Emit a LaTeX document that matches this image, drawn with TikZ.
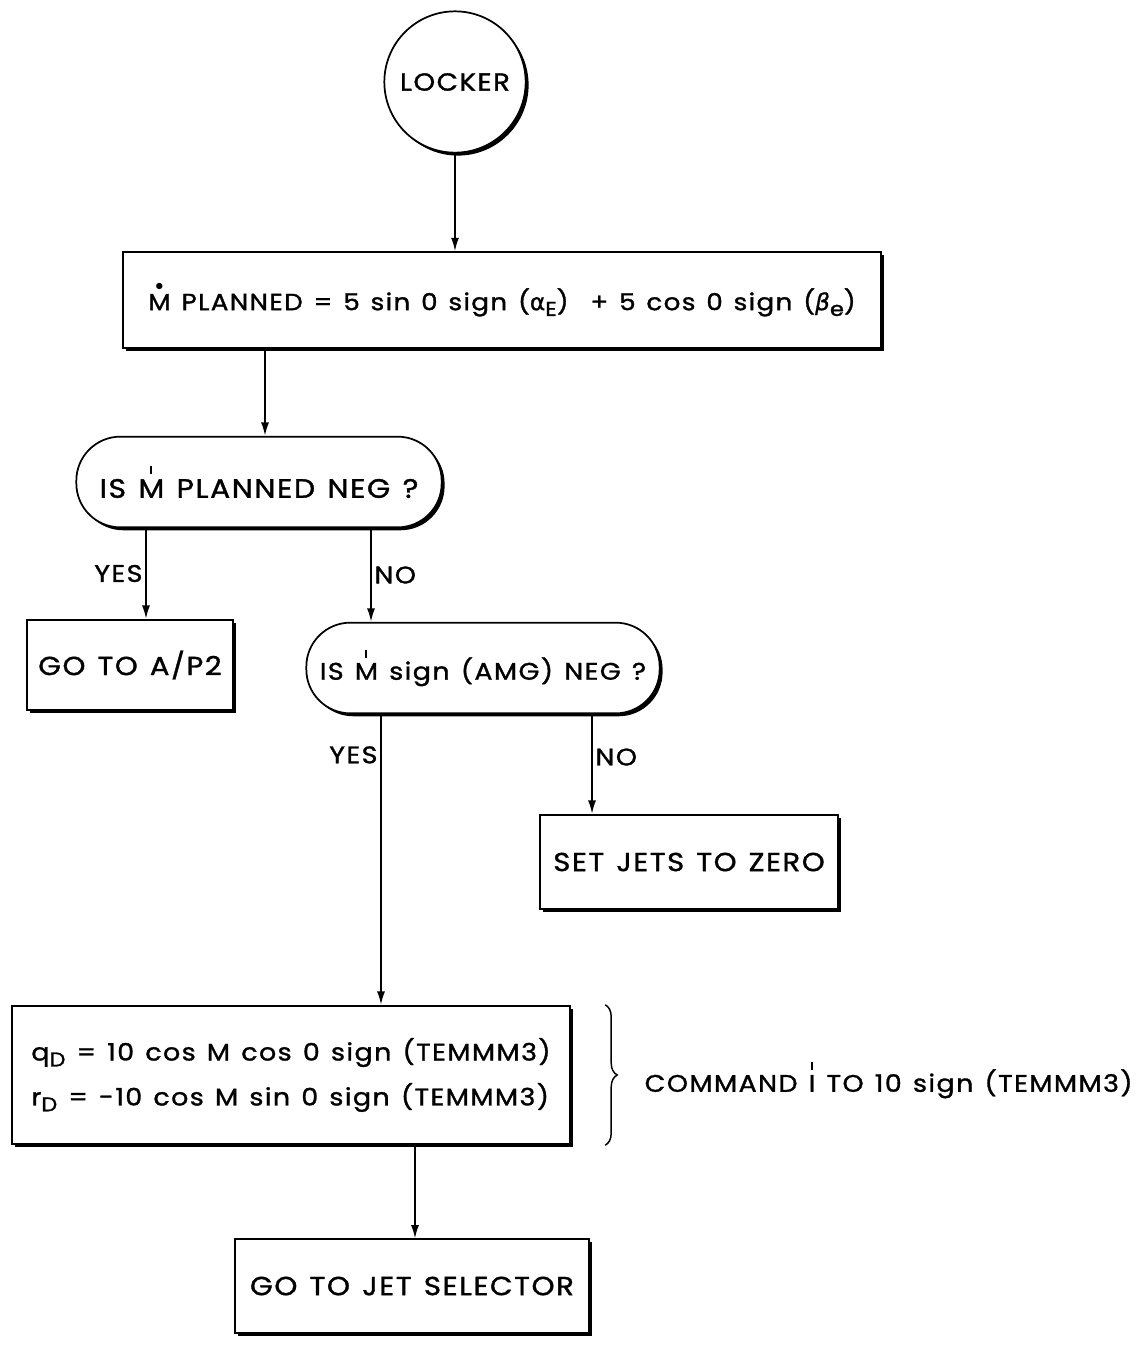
\documentclass[tikz,border=0pt]{standalone}
\usepackage{fontspec}
\setmainfont{Poppins}[LetterSpace=6,WordSpace=1.3,FakeBold=1.3,FakeStretch=1.12]
\newfontfamily\grk{DejaVu Sans}[FakeBold=1]
\usetikzlibrary{arrows.meta,shadows,decorations.pathreplacing,shapes.misc}
\newcommand\tickabove[1]{\leavevmode\setbox0\hbox{#1}\rlap{\hbox to\wd0{\hss\raisebox{\dimexpr\ht0+4pt\relax}{\rule{1.5pt}{6pt}}\hss}}\box0\relax}
\newcommand\dotabove[1]{\leavevmode\setbox0\hbox{#1}\rlap{\hbox to\wd0{\hss\raisebox{\dimexpr\ht0+2.5pt\relax}{\scalebox{0.7}{$\bullet$}}\hss}}\box0\relax}
\newcommand\lowsub[1]{\raisebox{-0.45ex}{\fontsize{15}{15}\selectfont #1}}
\newcommand\fs[1]{\fontsize{#1}{#1}\selectfont}
\begin{document}
\begin{tikzpicture}[x=0.75pt,y=-0.75pt,
  every node/.style={font=\fs{18}},
  shad/.style={drop shadow={shadow xshift=2.2pt,shadow yshift=-2.2pt,fill=black,opacity=1}},
  proc/.style={draw,line width=1.3pt,fill=white,shad,inner sep=0pt,align=center},
  dec/.style={draw,line width=1.3pt,fill=white,shad,rounded corners=33pt,inner sep=0pt,align=center},
  arr/.style={line width=1.3pt,-{Latex[length=10pt,width=6pt]}},
  lbl/.style={inner sep=2pt}
]
\useasboundingbox (0,0) rectangle (1144,1345);

\node[circle,draw,line width=1.3pt,fill=white,shad,minimum size=106pt,inner sep=0pt,font=\fs{18.5}] (lock) at (455,82) {LOCKER};

\node[proc,minimum width=568pt,minimum height=72pt,font=\fs{17.5}] (b1) at (502,300)
  {\dotabove{M} PLANNED = 5 sin 0 sign ({\grk α}\lowsub{E})\ \ + 5 cos 0 sign ({\grk\itshape β}\lowsub{e})};

\node[dec,minimum width=274pt,minimum height=68pt,font=\fs{20}] (d1) at (259,482)
  {IS \tickabove{M} PLANNED NEG ?};

\node[proc,minimum width=154pt,minimum height=68pt,font=\fs{19.5}] (ap2) at (130,665) {GO TO A/P2};

\node[dec,minimum width=265pt,minimum height=68pt,font=\fs{18}] (d2) at (483,668)
  {IS \tickabove{M} sign (AMG) NEG ?};

\node[proc,minimum width=223pt,minimum height=71pt,font=\fs{19.5}] (zero) at (689,862) {SET JETS TO ZERO};

\node[proc,minimum width=418pt,minimum height=104pt,align=left,font=\fs{18}] (b4) at (291,1075)
  {q\lowsub{D} = 10 cos M cos 0 sign (TEMMM3)\\[11pt]
   r\lowsub{D} = -10 cos M sin 0 sign (TEMMM3)};

\node[proc,minimum width=265pt,minimum height=70pt,font=\fs{19.6}] (jet) at (412,1286) {GO TO JET SELECTOR};

\node[anchor=west,font=\fs{18}] (cmd) at (640,1080) {COMMAND \tickabove{I} TO 10 sign (TEMMM3)};

% connectors
\draw[arr] (lock.south) -- (lock.south |- b1.north);
\draw[arr] ([xshift=4.5pt]d1.north |- b1.south) -- ([xshift=4.5pt]d1.north);
\draw[arr] ([xshift=12pt]ap2.north |- d1.south) -- node[lbl,left] {YES} ([xshift=12pt]ap2.north);
\draw[arr] ([xshift=-84pt]d2.north |- d1.south) -- node[lbl,right] {NO} ([xshift=-84pt]d2.north);
\draw[arr] ([xshift=67.5pt]b4.north |- d2.south) -- node[lbl,left,pos=0.14] {YES} ([xshift=67.5pt]b4.north);
\draw[arr] ([xshift=-72.75pt]zero.north |- d2.south) -- node[lbl,right,pos=0.43] {NO} ([xshift=-72.75pt]zero.north);
\draw[arr] ([xshift=2.25pt]jet.north |- b4.south) -- ([xshift=2.25pt]jet.north);

\draw[line width=1.1pt,decorate,decoration={brace,amplitude=9pt}] ([xshift=26pt]b4.north east) -- ([xshift=26pt]b4.south east);
\end{tikzpicture}
\end{document}
